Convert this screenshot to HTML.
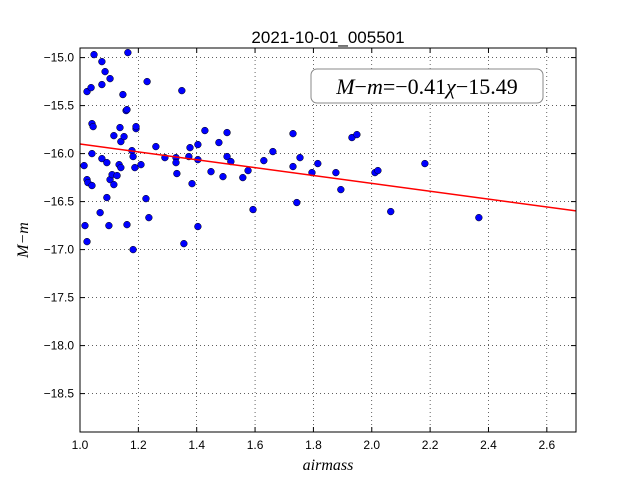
<!DOCTYPE html>
<html><head><meta charset="utf-8"><style>
body{margin:0;background:#fff}
svg{display:block}
text{font-family:"Liberation Sans",sans-serif}
</style></head><body>
<svg id="chart" width="640" height="480"></svg>
<script>
const xs=[1.014,1.017,1.024,1.024,1.038,1.024,1.027,1.041,1.041,1.041,1.045,1.048,1.075,1.086,1.103,1.075,1.075,1.069,1.092,1.092,1.099,1.103,1.110,1.116,1.127,1.116,1.137,1.140,1.134,1.140,1.147,1.151,1.158,1.161,1.164,1.161,1.178,1.182,1.188,1.182,1.192,1.192,1.209,1.226,1.230,1.236,1.260,1.291,1.329,1.329,1.332,1.349,1.356,1.373,1.377,1.384,1.404,1.404,1.404,1.428,1.449,1.476,1.490,1.504,1.504,1.517,1.558,1.576,1.593,1.630,1.661,1.730,1.730,1.754,1.743,1.795,1.815,1.877,1.894,1.932,1.949,2.011,2.021,2.065,2.182,2.367];
const ys=[-16.125,-16.75,-16.917,-15.354,-15.313,-16.271,-16.302,-16.333,-16.0,-15.688,-15.719,-14.969,-15.042,-15.146,-15.219,-15.281,-16.052,-16.615,-16.094,-16.458,-16.75,-16.271,-16.219,-16.323,-16.229,-15.813,-15.729,-15.875,-16.115,-16.146,-15.385,-15.823,-15.552,-15.542,-14.948,-16.74,-15.969,-16.031,-16.146,-17.0,-15.74,-15.719,-16.115,-16.469,-15.25,-16.667,-15.927,-16.042,-16.042,-16.094,-16.208,-15.344,-16.938,-16.031,-15.938,-16.313,-15.906,-16.063,-16.76,-15.76,-16.188,-15.885,-16.24,-15.781,-16.031,-16.083,-16.25,-16.177,-16.583,-16.073,-15.979,-15.792,-16.135,-16.042,-16.51,-16.198,-16.104,-16.198,-16.375,-15.833,-15.802,-16.198,-16.177,-16.604,-16.104,-16.667];
const xTicks=[1.0,1.2,1.4,1.6,1.8,2.0,2.2,2.4,2.6];
const yTicks=[-15.0,-15.5,-16.0,-16.5,-17.0,-17.5,-18.0,-18.5];
const fitSlope=[-0.41];
const fitIntercept=[-15.49];
const fitRange=[1.0,2.7];

const L=80,R=576,T=48,B=432;
const X0=1.0,X1=2.7,Y0=-18.9,Y1=-14.9;
const sx=v=>L+(v-X0)/(X1-X0)*(R-L);
const sy=v=>B-(v-Y0)/(Y1-Y0)*(B-T);
const svg=document.getElementById('chart');
const NS='http://www.w3.org/2000/svg';
function mk(tag,attrs,parent){const e=document.createElementNS(NS,tag);for(const k in attrs)e.setAttribute(k,attrs[k]);(parent||svg).appendChild(e);return e;}
const fmt=v=>(v<0?'\u2212':'')+Math.abs(v).toFixed(1);

xTicks.forEach(v=>{
  const x=sx(v);
  const g=mk('line',{x1:x,x2:x,y1:T,y2:B,stroke:'#000','stroke-width':0.6,'stroke-dasharray':'1,3'});
  
  
  const t1=mk('line',{x1:x,x2:x,y1:B,y2:B-5,stroke:'#000'});
  
  
  const t2=mk('line',{x1:x,x2:x,y1:T,y2:T+5,stroke:'#000'});
  
  
  const lb=mk('text',{x:x,y:B+17,'text-anchor':'middle','font-size':12});
  lb.textContent=fmt(v);
  
  
});
yTicks.forEach(v=>{
  const y=sy(v);
  const g=mk('line',{x1:L,x2:R,y1:y,y2:y,stroke:'#000','stroke-width':0.6,'stroke-dasharray':'1,3'});
  
  
  const t1=mk('line',{x1:L,x2:L+5,y1:y,y2:y,stroke:'#000'});
  
  
  const t2=mk('line',{x1:R,x2:R-5,y1:y,y2:y,stroke:'#000'});
  
  
  const lb=mk('text',{x:L-6,y:y+4,'text-anchor':'end','font-size':12});
  lb.textContent=fmt(v);
  
  
});

const clip=mk('clipPath',{id:'pc'});
mk('rect',{x:L,y:T,width:R-L,height:B-T},clip);
const pg=mk('g',{'clip-path':'url(#pc)'});



xs.forEach((v,i)=>{
  const c=mk('circle',{cx:sx(v),cy:sy(ys[i]),r:3.4,fill:'#0000ff',stroke:'#000','stroke-width':0.5},pg);
  
  
});
const fl=mk('line',{x1:sx(fitRange[0]),y1:sy(fitSlope[0]*fitRange[0]+fitIntercept[0]),x2:sx(fitRange[1]),y2:sy(fitSlope[0]*fitRange[1]+fitIntercept[0]),stroke:'#ff0000','stroke-width':1.5},pg);



const fr=mk('rect',{x:L,y:T,width:R-L,height:B-T,fill:'none',stroke:'#000','stroke-width':1});


</script>
<svg width="640" height="480" style="position:absolute;left:0;top:0">
<text x="328" y="43" text-anchor="middle" font-size="17" style="font-family:'Liberation Sans',sans-serif">2021-10-01_005501</text>
<text x="328" y="470" text-anchor="middle" font-size="16" font-style="italic" style="font-family:'Liberation Serif',serif">airmass</text>
<text x="28" y="240" text-anchor="middle" font-size="16" font-style="italic" transform="rotate(-90 28 240)" style="font-family:'Liberation Serif',serif">M−m</text>
<g>
<rect x="311" y="69" width="232" height="34" rx="6" fill="#fff" stroke="#888" stroke-width="1"/>
<text x="427" y="94" text-anchor="middle" font-size="22" style="font-family:'Liberation Serif',serif"><tspan font-style="italic">M</tspan>−<tspan font-style="italic">m</tspan>=−0.41<tspan font-style="italic">χ</tspan>−15.49</text>
</g>
</svg>
</body></html>
